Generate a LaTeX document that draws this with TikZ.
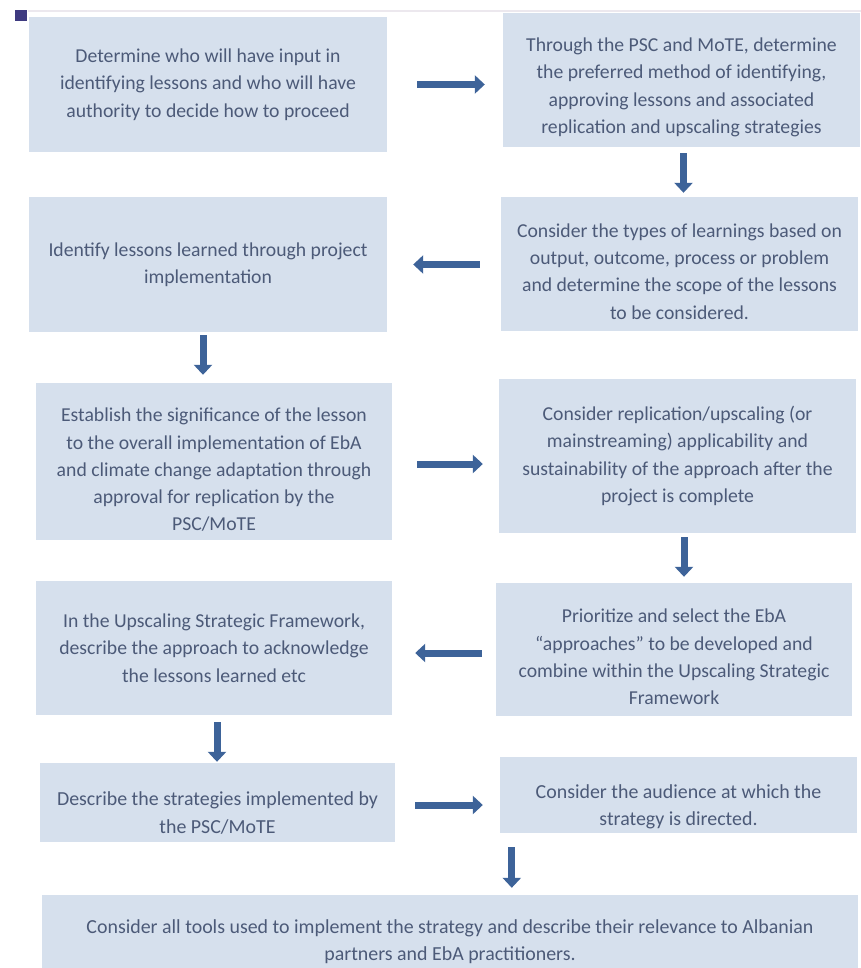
\documentclass[tikz,border=0pt]{standalone}
\usepackage{fontspec}
\setmainfont{Carlito}
\usepackage{xcolor}
\usepackage{tikz}
\usetikzlibrary{arrows.meta, positioning, calc}
\definecolor{stepfill}{HTML}{D6E0ED}
\definecolor{steptext}{HTML}{4C5A78}
\definecolor{flowblue}{HTML}{3D6399}
\definecolor{rulegray}{HTML}{ECE8EE}
\definecolor{markpurple}{HTML}{3E3A80}

\begin{document}
\begin{tikzpicture}[
    x=1pt, y=-1pt,
    stepbox/.style={fill=stepfill,draw=none,align=center,inner sep=0pt,text=steptext,
      font=\fontsize{19.7}{27.3}\selectfont},
    bigger/.style={font=\fontsize{19.9}{27.3}\selectfont},
    sink/.style={text height=#1},
    flow/.style={draw=flowblue,line width=7pt,-{Triangle[width=18pt,length=10pt]}}
  ]
    \clip (0,0) rectangle (861,968);
    \fill[white] (0,0) rectangle (861,968);

    % header rule and marker
    \draw[rulegray,line width=1.2pt] (28,11) -- (861,11);
    \fill[markpurple] (15,10) rectangle (27,21);

    \node[stepbox,minimum width=358pt,minimum height=135pt] (s1) at (208,84.5)
      {Determine who will have input in\\identifying lessons and who will have\\authority to decide how to proceed};
    \node[stepbox,minimum width=357pt,minimum height=134pt,sink=110.5pt] (s2) at (681.5,80)
      {Through the PSC and MoTE, determine\\the preferred method of identifying,\\approving lessons and associated\\replication and upscaling strategies};

    \node[stepbox,minimum width=357pt,minimum height=134pt,sink=110.5pt] (s3) at (679.5,264)
      {Consider the types of learnings based on\\output, outcome, process or problem\\and determine the scope of the lessons\\to be considered.};
    \node[stepbox,minimum width=358pt,minimum height=135pt] (s4) at (208,264.5)
      {Identify lessons learned through project\\implementation};

    \node[stepbox,minimum width=356pt,minimum height=157pt,sink=139.8pt] (s5) at (214,461.5)
      {Establish the significance of the lesson\\to the overall implementation of EbA\\and climate change adaptation through\\approval for replication by the\\PSC/MoTE};
    \node[stepbox,minimum width=357pt,minimum height=154pt] (s6) at (677.5,456)
      {Consider replication/upscaling (or\\mainstreaming) applicability and\\sustainability of the approach after the\\project is complete};

    \node[stepbox,minimum width=356pt,minimum height=133pt,sink=110.5pt] (s7) at (674,649.5)
      {Prioritize and select the EbA\\``approaches'' to be developed and\\combine within the Upscaling Strategic\\Framework};
    \node[stepbox,minimum width=356pt,minimum height=134pt] (s8) at (214,648)
      {In the Upscaling Strategic Framework,\\describe the approach to acknowledge\\the lessons learned etc};

    \node[stepbox,bigger,minimum width=355pt,minimum height=79pt,sink=62pt] (s9) at (217.5,802.5)
      {Describe the strategies implemented by\\the PSC/MoTE};
    \node[stepbox,bigger,minimum width=357pt,minimum height=76pt,sink=65pt] (s10) at (678.5,795)
      {Consider the audience at which the\\strategy is directed.};

    \node[stepbox,bigger,minimum width=816pt,minimum height=93pt] (s11) at (450,941.5)
      {Consider all tools used to implement the strategy and describe their relevance to Albanian\\partners and EbA practitioners.};

    % arrows between steps
    \draw[flow,shorten <=30pt,shorten >=18pt] (s1.east) -- (s1.east -| s2.west);
    \draw[flow,shorten <=6pt,shorten >=4pt] ([xshift=2pt]s2.south) -- ([xshift=2pt]s2.south |- s3.north);
    \draw[flow,shorten <=21pt,shorten >=26pt] (s3.west |- s4.east) -- (s4.east);
    \draw[flow,shorten <=3pt,shorten >=8pt] ([xshift=-5pt]s4.south) -- ([xshift=-5pt]s4.south |- s5.north);
    \draw[flow,shorten <=25pt,shorten >=16pt] ([yshift=-2.5pt]s5.east) -- ([yshift=-2.5pt]s5.east -| s6.west);
    \draw[flow,shorten <=4pt,shorten >=6pt] ([xshift=6.5pt]s6.south) -- ([xshift=6.5pt]s6.south |- s7.north);
    \draw[flow,shorten <=14pt,shorten >=23pt] ([yshift=-5pt]s8.east -| s7.west) -- ([yshift=-5pt]s8.east);
    \draw[flow,shorten <=7pt,shorten >=1pt] ([xshift=3pt]s8.south) -- ([xshift=3pt]s8.south |- s9.north);
    \draw[flow,shorten <=20pt,shorten >=17pt] ([yshift=-2.5pt]s9.east) -- ([yshift=-2.5pt]s9.east -| s10.west);
    \draw[flow,shorten <=14pt,shorten >=7pt] ([xshift=12pt]s10.south west) -- ([xshift=12pt]s10.south west |- s11.north);
  \end{tikzpicture}
\end{document}
